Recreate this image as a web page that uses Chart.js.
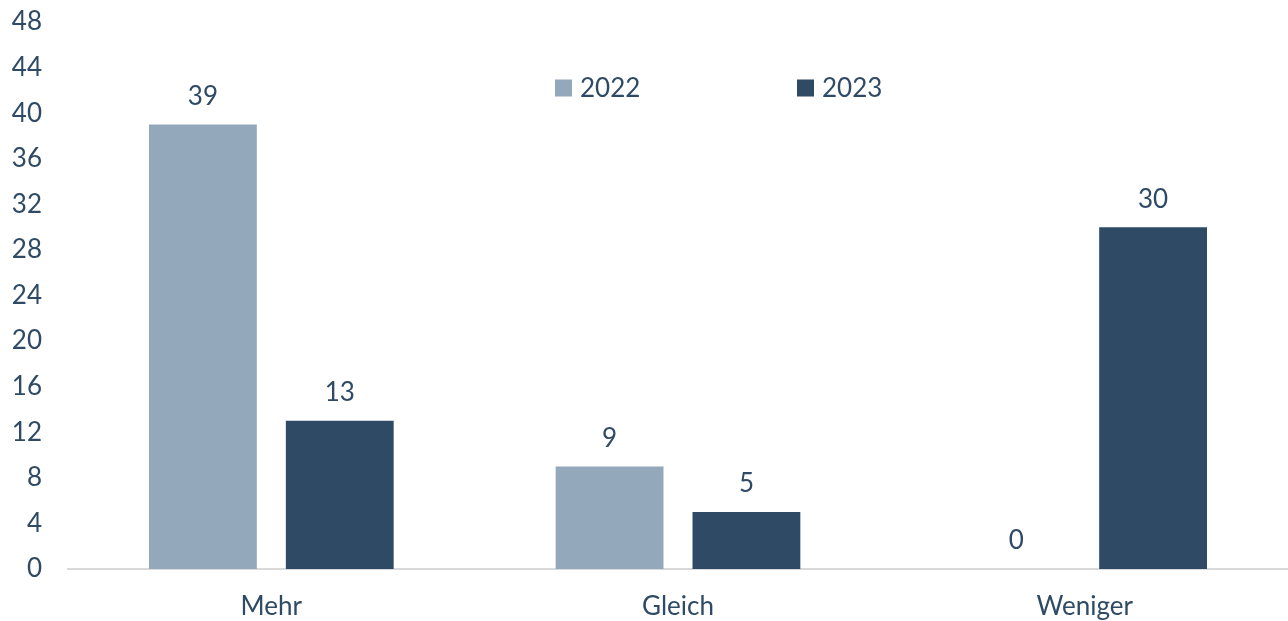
<!DOCTYPE html>
<html lang="de">
<head>
  <meta charset="UTF-8">
  <title>Mehr / Gleich / Weniger</title>
  <script src="https://cdn.jsdelivr.net/npm/chart.js"></script>
  <style>
    html, body { margin: 0; padding: 0; background: #fff; }
    .wrap { width: 1288px; height: 621px; }
  </style>
</head>
<body>
  <div class="wrap"><canvas id="chart" width="1288" height="621"></canvas></div>
  <script>
    const kategorien = ['Mehr', 'Gleich', 'Weniger'];
    const werte2022 = [39, 9, 0];
    const werte2023 = [13, 5, 30];
    const serien = ['2022', '2023'];
    const farben = ['#94A8BC', '#2E4A64'];
    const textFarbe = '#2E4A64';
    const schrift = 'Lato, "Open Sans", sans-serif';

    // Zahlen über den Balken
    const wertLabels = {
      id: 'wertLabels',
      afterDatasetsDraw(chart) {
        const ctx = chart.ctx;
        ctx.save();
        ctx.font = '26px ' + schrift;
        ctx.fillStyle = textFarbe;
        ctx.textAlign = 'center';
        ctx.textBaseline = 'middle';
        chart.data.datasets.forEach((ds, i) => {
          chart.getDatasetMeta(i).data.forEach((bar, j) => {
            ctx.fillText(ds.data[j], bar.x, bar.y - 28);
          });
        });
        ctx.restore();
      }
    };

    // Legende im Diagrammbereich
    const legende = {
      id: 'legende',
      afterDraw(chart) {
        const ctx = chart.ctx;
        const pos = [555, 797];
        const y = 88;
        ctx.save();
        ctx.font = '26px ' + schrift;
        ctx.textBaseline = 'middle';
        ctx.textAlign = 'left';
        serien.forEach((s, i) => {
          ctx.fillStyle = farben[i];
          ctx.fillRect(pos[i], y - 8.5, 17, 17);
          ctx.fillStyle = textFarbe;
          ctx.fillText(s, pos[i] + 25, y + 1);
        });
        ctx.restore();
      }
    };

    new Chart(document.getElementById('chart'), {
      type: 'bar',
      data: {
        labels: kategorien,
        datasets: [
          { label: serien[0], data: werte2022, backgroundColor: farben[0] },
          { label: serien[1], data: werte2023, backgroundColor: farben[1] }
        ]
      },
      options: {
        responsive: false,
        animation: false,
        categoryPercentage: 0.673,
        barPercentage: 0.788,
        layout: { padding: { top: 22, right: 0, left: 0, bottom: 0 } },
        plugins: {
          legend: { display: false },
          tooltip: { enabled: false }
        },
        scales: {
          x: {
            grid: { display: false },
            border: { display: true, color: '#D9D9D9', width: 2 },
            ticks: { color: textFarbe, font: { family: schrift, size: 26 }, padding: 14 },
            afterFit(scale) { scale.height = 52; }
          },
          y: {
            min: 0,
            max: 48,
            grid: { display: false },
            border: { display: false },
            ticks: { stepSize: 4, color: textFarbe, font: { family: schrift, size: 26 }, padding: 18 },
            afterFit(scale) {
              scale.width = 68;
              scale.paddingTop = 0;
              scale.paddingBottom = 0;
            }
          }
        }
      },
      plugins: [wertLabels, legende]
    });
  </script>
</body>
</html>
